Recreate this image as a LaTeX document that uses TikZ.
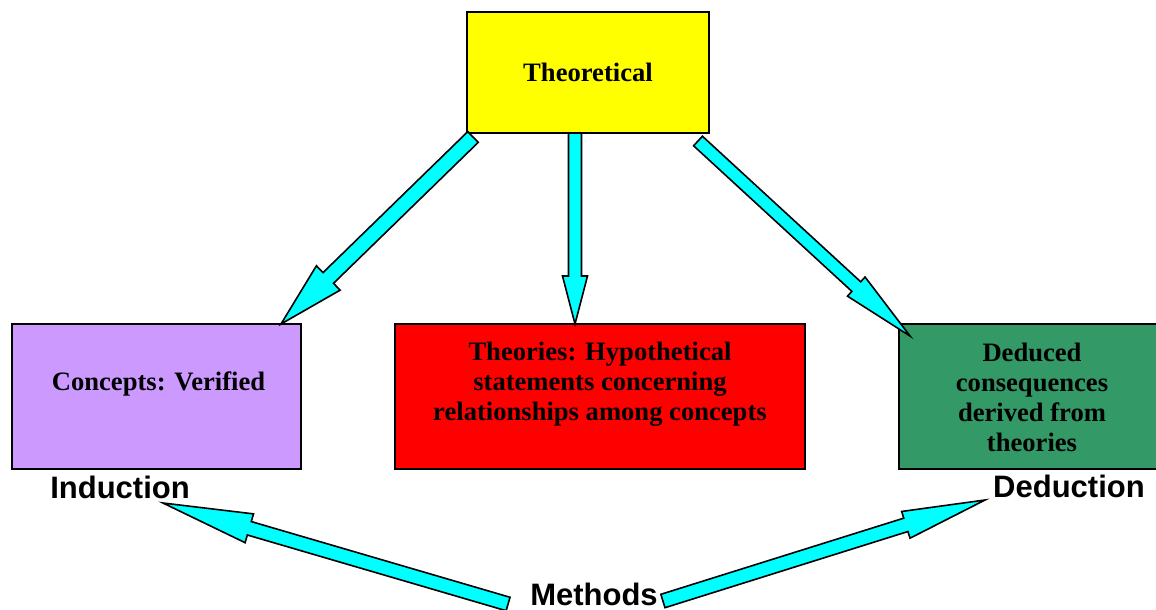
\documentclass[tikz,border=0pt]{standalone}
\usepackage{fontspec}
\setmainfont{Liberation Serif}
\setsansfont{Liberation Sans}
\usetikzlibrary{calc}
\definecolor{boxyellow}{HTML}{FFFF00}
\definecolor{boxpurple}{HTML}{CC99FF}
\definecolor{boxred}{HTML}{FF0000}
\definecolor{boxgreen}{HTML}{339966}
\definecolor{arrowcyan}{HTML}{00FFFF}
\tikzset{
  box/.style={draw=black, line width=2pt, rectangle, inner sep=0pt, outer sep=0pt},
  boxtext/.style={font=\fontsize{26.6}{30}\selectfont\bfseries, align=center, inner sep=0pt},
  methodtext/.style={font=\fontsize{31}{36}\selectfont\sffamily\bfseries, inner sep=0pt},
  blockarrowstyle/.style={draw=black, line width=1.6pt, fill=arrowcyan, line join=miter}
}
% #1 start, #2 end, #3 shaft half width, #4 head half width, #5 head length, #6 name
\newcommand{\blockarrow}[6]{%
  \coordinate (#6h) at ($(#2)!#5!(#1)$);
  \draw[blockarrowstyle] ($(#1)!#3!90:(#2)$) -- ($(#6h)!#3!90:(#2)$) -- ($(#6h)!#4!90:(#2)$) -- (#2)
     -- ($(#6h)!#4!-90:(#2)$) -- ($(#6h)!#3!-90:(#2)$) -- ($(#1)!#3!-90:(#2)$) -- cycle;}
\begin{document}
\begin{tikzpicture}[x=1pt,y=-1pt]
\useasboundingbox (0,0) rectangle (1156,610);
% boxes
\node[box, fill=boxyellow, minimum width=242pt, minimum height=121pt] (theo) at (588,72.5) {};
\node[box, fill=boxpurple, minimum width=289pt, minimum height=145pt] (concepts) at (156.5,396.5) {};
\node[box, fill=boxred, minimum width=410pt, minimum height=145pt] (theories) at (600,396.5) {};
\node[box, fill=boxgreen, minimum width=266pt, minimum height=145pt] (deduced) at (1032,396.5) {};
% box texts
\node[boxtext] (theot) at (theo.center) {Theoretical};
\node[boxtext] (conceptst) at ($(concepts.center)+(2,-13)$) {Concepts: Verified};
\node[boxtext] (theoriest) at ($(theories.center)+(0,-12)$) {Theories: Hypothetical\\statements concerning\\relationships among concepts};
\node[boxtext] (deducedt) at ($(deduced.center)+(0,1)$) {Deduced\\consequences\\derived from\\theories};
% method labels
\node[methodtext, anchor=base] (induction) at (120,498) {Induction};
\node[methodtext, anchor=base] (deduction) at (1069,497) {Deduction};
\node[methodtext, anchor=base] (methods) at (594,605) {Methods};
% arrow end points
\coordinate (a1s) at ($(theo.south west)+(6,4)$);
\coordinate (a1e) at ($(concepts.north east)+(-20,0)$);
\coordinate (a2s) at ($(theo.south)+(-13,0)$);
\coordinate (a2e) at ($(theories.north)+(-25,0)$);
\coordinate (a3s) at ($(theo.south east)+(-11,8)$);
\coordinate (a3e) at ($(deduced.north west)+(11,12)$);
\coordinate (b1s) at ($(methods.base west)+(-22,-1)$);
\coordinate (b1e) at ($(induction.base east)+(-27,5)$);
\coordinate (b2s) at ($(methods.base east)+(5,-4)$);
\coordinate (b2e) at ($(deduction.base west)+(-8,3)$);
% arrows
\blockarrow{a1s}{a1e}{7.5pt}{17pt}{66pt}{A}
\blockarrow{a2s}{a2e}{6.5pt}{12.5pt}{48pt}{B}
\blockarrow{a3s}{a3e}{6.5pt}{13pt}{73pt}{C}
\blockarrow{b1s}{b1e}{7pt}{15pt}{90pt}{D}
\blockarrow{b2s}{b2e}{7pt}{14pt}{83pt}{E}
\end{tikzpicture}
\end{document}
